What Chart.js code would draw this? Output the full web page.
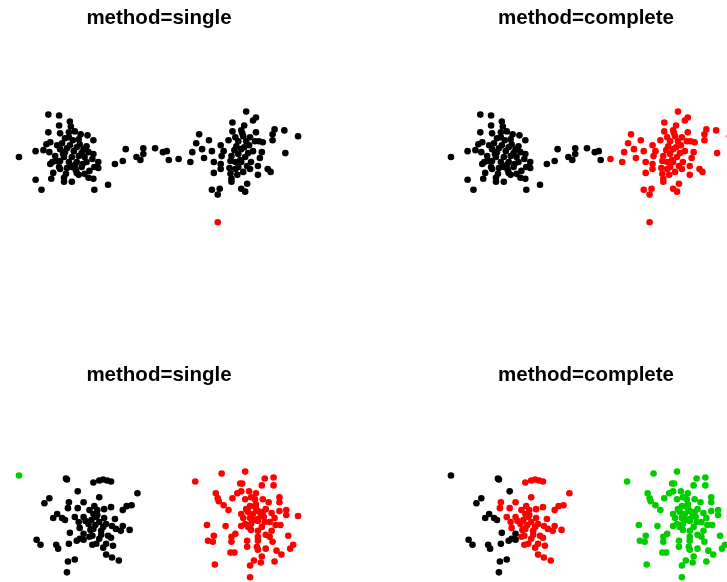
<!DOCTYPE html>
<html>
<head>
<meta charset="utf-8">
<script src="https://cdn.jsdelivr.net/npm/chart.js@4"></script>
<style>
  html, body { margin: 0; padding: 0; background: #fff; }
  #wrap { position: relative; width: 727px; height: 582px; overflow: hidden; }
  #wrap canvas { position: absolute; display: block; }
</style>
</head>
<body>
<div id="wrap">
  <canvas id="p1" width="318" height="357" style="left:0;top:0"></canvas>
  <canvas id="p2" width="308" height="357" style="left:432px;top:0"></canvas>
  <canvas id="p3" width="318" height="357" style="left:0;top:357px"></canvas>
  <canvas id="p4" width="308" height="357" style="left:432px;top:357px"></canvas>
</div>
<script>
// top row data: two clusters joined by a thin bridge, plus one outlier
const topLeft = [[-11.4,4.5],[-10.3,4.4],[-9.2,3.8],[-10.3,3.4],[-9.1,3.3],[-11.4,2.7],[-10.2,2.6],[-9.3,2.7],[-8.7,2.8],[-8.1,2.5],
  [-7.4,2.4],[-6.8,1.9],[-8.3,2.0],[-9.7,2.1],[-11.2,1.7],[-11.6,1.5],[-10.5,1.4],[-10.0,1.6],[-9.2,1.4],[-8.2,1.5],
  [-7.5,1.3],[-11.9,0.9],[-12.7,0.8],[-11.3,0.7],[-10.2,1.0],[-9.7,0.7],[-8.8,0.8],[-7.8,1.0],[-7.3,0.7],[-6.8,0.5],
  [-14.4,0.2],[-10.7,0.3],[-9.8,0.2],[-9.0,0.2],[-8.3,0.3],[-7.7,0.2],[-6.9,0.0],[-11.0,-0.3],[-10.2,-0.2],[-9.3,-0.3],
  [-8.5,-0.3],[-7.5,-0.3],[-6.3,-0.3],[-11.2,-0.5],[-10.3,-0.8],[-9.0,-0.8],[-8.0,-0.8],[-6.7,-0.8],[-10.9,-1.4],[-10.2,-1.0],
  [-8.5,-1.4],[-7.7,-1.5],[-7.2,-1.2],[-6.3,-0.9],[-11.1,-2.0],[-9.8,-1.9],[-9.0,-2.3],[-8.3,-1.6],[-7.3,-1.9],[-6.8,-2.0],
  [-12.7,-2.1],[-9.8,-2.3],[-12.1,-3.1],[-6.7,-3.1],[-9.5,1.1],[-8.9,1.9],[-9.5,-0.9],[-8.6,-1.1],[-9.9,0.5],[-8.0,0.6],
  [-8.7,-0.6],[-9.6,-1.5],[-10.6,-0.2],[-7.9,-0.5],[-9.3,2.2],[-8.5,1.2]];
const topBridge = [[-5.3,-2.6],[-4.6,-0.5],[-3.8,-0.2],[-3.5,1.0],[-2.4,0.2],[-2.0,-0.1],[-1.7,1.1],[-1.7,0.5],
  [-0.5,1.1],[0.3,0.7],[0.7,0.8],[0.9,-0.1]];
const topRight = [[1.9,0.0],[3.1,-0.3],[3.3,0.7],[3.7,1.6],[4.0,2.5],[4.3,1.0],[4.5,0.1],[5.0,1.9],[8.8,4.8],[9.8,4.2],
  [9.5,3.9],[7.4,3.7],[7.4,2.8],[8.3,2.9],[9.8,2.7],[11.7,3.0],[12.7,2.9],[11.5,2.5],[14.1,2.3],[6.2,1.4],
  [5.3,0.8],[6.5,0.8],[7.0,1.9],[7.7,2.2],[8.5,2.3],[8.8,1.8],[9.7,1.8],[10.1,1.8],[10.5,1.7],[11.5,1.9],
  [7.8,1.3],[8.3,1.0],[9.5,0.8],[10.4,0.7],[12.8,0.6],[6.3,0.3],[7.3,0.3],[8.0,0.5],[8.7,0.2],[10.2,0.1],
  [5.5,-0.3],[6.2,-0.5],[7.2,-0.2],[7.7,-0.3],[8.3,-0.3],[9.3,-0.3],[6.2,-1.0],[7.1,-0.9],[8.0,-0.8],[9.2,-1.0],
  [10.0,-0.7],[11.0,-1.0],[5.5,-1.4],[7.2,-1.5],[8.5,-1.3],[11.3,-1.3],[10.0,-1.6],[7.3,-2.0],[7.3,-2.3],[8.9,-2.5],
  [8.3,-3.0],[8.7,-3.3],[5.3,-3.1],[6.1,-3.0],[5.9,-3.6],[8.0,1.8],[8.6,1.2],[9.0,0.6],[7.6,0.9],[8.2,-0.1],
  [8.9,-0.7],[7.7,-1.0],[9.1,1.4],[8.4,2.6],[9.2,2.2],[7.9,-1.6],[8.6,3.4]];
const topOut = [[5.9,-6.4]];

// bottom row data: two round clusters plus one outlier
const botOut = [[-6.4,4.9]];
const botLeftA = [[-1.6,4.6],[-1.5,4.5],[-0.4,3.3],[-3.3,2.6],[-3.8,2.1],[-2.5,1.0],[-2.9,0.6],[-2.0,0.6],[-1.7,0.4],[-1.2,-0.9],
  [0.2,-1.0],[-0.2,-1.5],[-4.6,-1.6],[-4.2,-2.1],[-2.6,-2.1],[-2.4,-2.5],[-1.3,-2.0],[-0.5,-1.7],[0.2,-1.6],[-1.4,-3.8],
  [-0.7,-3.6],[-1.5,-4.9]];
const botLeftB = [[1.2,4.2],[1.8,4.4],[2.2,4.5],[2.6,4.4],[3.0,4.3],[5.7,3.1],[1.8,2.7],[-1.3,2.2],[0.2,2.2],[-1.4,1.6],
  [-0.4,1.6],[0.8,1.4],[1.3,1.8],[1.6,1.4],[2.3,1.5],[3.0,1.7],[4.2,1.4],[4.6,1.8],[5.1,1.9],[-0.7,0.7],
  [0.2,0.7],[0.4,0.3],[1.5,0.7],[2.3,0.6],[3.4,0.5],[-0.3,0.2],[0.7,0.0],[1.8,0.2],[2.5,0.0],[3.1,-0.2],
  [4.2,-0.2],[-0.2,-0.4],[1.2,-0.5],[2.2,-0.3],[3.5,-0.5],[4.0,-0.7],[4.9,-0.6],[1.1,-1.2],[2.0,-1.1],[2.7,-1.2],
  [0.8,-1.3],[1.8,-1.5],[3.0,-1.4],[1.1,-2.1],[1.5,-2.0],[2.2,-2.4],[2.5,-2.0],[3.2,-2.2],[2.5,-3.1],[3.1,-3.4],
  [3.8,-3.7],[1.0,0.4],[1.4,-0.1],[0.9,-0.6],[1.6,0.9],[2.0,-0.7],[1.2,1.0]];
const botRight = [[11.6,4.3],[14.3,5.1],[16.7,5.3],[16.2,4.1],[16.4,4.1],[18.7,4.6],[19.6,4.7],[18.4,3.9],[19.6,3.9],[13.7,3.1],
  [13.9,2.6],[14.0,2.3],[15.4,2.6],[15.9,3.1],[16.3,3.3],[17.1,3.3],[17.8,3.1],[16.7,2.5],[17.3,2.7],[17.7,2.5],
  [18.5,2.5],[19.1,2.2],[20.2,2.7],[20.2,2.2],[17.2,1.8],[17.8,2.0],[14.5,1.9],[15.0,1.4],[18.0,1.3],[18.5,1.2],
  [18.8,1.5],[19.4,1.1],[20.2,1.3],[20.9,1.4],[20.9,0.9],[22.1,0.8],[16.3,1.0],[17.0,1.2],[17.5,1.0],[16.5,0.6],
  [17.2,0.6],[18.0,0.5],[18.6,0.7],[19.7,0.6],[16.3,-0.2],[16.7,0.0],[17.3,0.0],[18.0,0.3],[18.7,0.2],[19.2,0.2],
  [19.8,-0.1],[20.3,-0.1],[12.8,-0.1],[14.7,-0.2],[17.3,-0.6],[18.0,-0.7],[19.4,-0.7],[15.7,-1.0],[15.3,-1.3],[15.3,-1.8],
  [13.5,-1.2],[12.9,-1.7],[13.4,-1.8],[16.9,-1.7],[18.0,-1.3],[18.0,-1.7],[18.8,-1.1],[19.2,-1.3],[19.5,-1.8],[21.1,-1.2],
  [21.6,-2.1],[21.3,-2.5],[16.9,-2.3],[17.9,-2.3],[18.0,-2.6],[18.8,-2.5],[19.9,-2.7],[20.4,-3.1],[15.2,-2.9],[15.6,-2.9],
  [18.4,-3.3],[17.6,-3.7],[18.3,-3.9],[19.7,-3.8],[17.2,-4.2],[13.6,-4.1],[17.2,-5.4],[17.6,0.4],[18.3,0.9],[17.0,-0.3],
  [18.4,-0.3],[17.8,1.6],[16.8,1.5]];

const BLACK = '#000000', RED = '#FF0000', GREEN = '#00CD00';

function toPoints(arr) {
  return arr.map(p => ({ x: p[0], y: p[1] }));
}

function makePanel(id, title, groups, xMin, xMax, yMin, yMax) {
  new Chart(document.getElementById(id), {
    type: 'scatter',
    data: {
      datasets: groups.map(g => ({
        data: toPoints(g[0]),
        backgroundColor: g[1],
        borderColor: g[1],
        pointRadius: 3.3,
        pointHoverRadius: 3.3,
        pointBorderWidth: 0
      }))
    },
    options: {
      responsive: false,
      animation: false,
      events: [],
      layout: { padding: 0 },
      plugins: {
        legend: { display: false },
        tooltip: { enabled: false },
        title: {
          display: true,
          text: title,
          color: '#000',
          font: { family: '"Liberation Sans", Arial, sans-serif', size: 20.5, weight: 'bold' },
          padding: { top: 6, bottom: 0 }
        }
      },
      scales: {
        // title block is 6 + 24.6 px tall, so the plot area starts near y=30
        x: { type: 'linear', display: false, min: xMin, max: xMax },
        y: { type: 'linear', display: false, min: yMin, max: yMax }
      }
    }
  });
}

makePanel('p1', 'method=single',
  [[topLeft, BLACK], [topBridge, BLACK], [topRight, BLACK], [topOut, RED]],
  -16, 15.8, -19.7, 13.0);
makePanel('p2', 'method=complete',
  [[topLeft, BLACK], [topBridge, BLACK], [topRight, RED], [topOut, RED]],
  -16, 14.8, -19.7, 13.0);
makePanel('p3', 'method=single',
  [[botOut, GREEN], [botLeftA, BLACK], [botLeftB, BLACK], [botRight, RED]],
  -8, 23.8, -18.9, 13.8);
makePanel('p4', 'method=complete',
  [[botOut, BLACK], [botLeftA, BLACK], [botLeftB, RED], [botRight, GREEN]],
  -8, 22.8, -18.9, 13.8);
</script>
</body>
</html>
